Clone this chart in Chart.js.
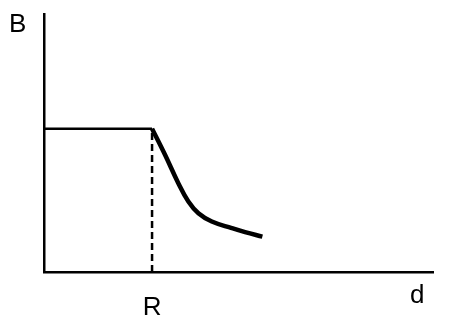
<!DOCTYPE html>
<html>
<head>
<meta charset="utf-8">
<script src="https://cdn.jsdelivr.net/npm/chart.js@4/dist/chart.umd.min.js"></script>
<style>
    html, body { margin: 0; padding: 0; background: #fff; }
    #wrap { width: 452px; height: 326px; }
</style>
</head>
<body>
<div id="wrap"><canvas id="fieldChart" width="452" height="326"></canvas></div>
<script>
// field strength B against distance d, in units of R and of the inside value
const plateauX = [0, 1];
const plateauY = [1, 1];
const dashX = [1, 1];
const dashY = [0, 1];
const decayX = [1, 1.12, 1.243, 1.336, 1.429, 1.553, 1.738, 1.861, 2.021];
const decayY = [1, 0.818, 0.62, 0.492, 0.41, 0.352, 0.306, 0.278, 0.247];
const tickValues = [1];
const tickLabels = ['R'];
const yAxisLabel = 'B';
const xAxisLabel = 'd';

const toPoints = (xs, ys) => xs.map((x, i) => ({ x: x, y: ys[i] }));
const labelFont = '26px "Liberation Sans", Arial, sans-serif';

const axisLabels = {
    id: 'axisLabels',
    afterDraw(chart) {
        const ctx = chart.ctx;
        const xs = chart.scales.x;
        const ys = chart.scales.y;
        ctx.save();
        ctx.fillStyle = '#000';
        ctx.font = labelFont;
        ctx.textBaseline = 'alphabetic';
        ctx.textAlign = 'left';
        ctx.fillText(yAxisLabel, xs.left - 35, ys.top + 18);
        ctx.fillText(xAxisLabel, xs.right - 23, ys.bottom + 31);
        ctx.restore();
    }
};

const ctx = document.getElementById('fieldChart').getContext('2d');
new Chart(ctx, {
    type: 'line',
    data: {
        datasets: [{
            data: toPoints(plateauX, plateauY),
            borderColor: '#000',
            borderWidth: 2.5,
            pointRadius: 0
        }, {
            data: toPoints(dashX, dashY),
            borderColor: '#000',
            borderWidth: 2.5,
            borderDash: [7, 4],
            pointRadius: 0
        }, {
            data: toPoints(decayX, decayY),
            borderColor: '#000',
            borderWidth: 4.5,
            tension: 0.4,
            pointRadius: 0
        }]
    },
    options: {
        responsive: false,
        animation: false,
        clip: false,
        layout: { padding: { left: 44, top: 14, right: 19, bottom: 0 } },
        plugins: {
            legend: { display: false },
            tooltip: { enabled: false }
        },
        scales: {
            x: {
                type: 'linear',
                min: 0,
                max: 3.6,
                afterFit: s => { s.height = 54; },
                afterBuildTicks: s => { s.ticks = tickValues.map(v => ({ value: v })); },
                grid: { display: false, drawTicks: false },
                border: { display: true, color: '#000', width: 2.5 },
                ticks: {
                    autoSkip: false,
                    maxRotation: 0,
                    padding: 20,
                    color: '#000',
                    font: { family: '"Liberation Sans", Arial, sans-serif', size: 26 },
                    callback: v => tickLabels[tickValues.indexOf(v)] || ''
                }
            },
            y: {
                min: 0,
                max: 1.8,
                afterFit: s => { s.width = 0; },
                grid: { display: false, drawTicks: false },
                border: { display: true, color: '#000', width: 2.5 },
                ticks: { display: false }
            }
        }
    },
    plugins: [axisLabels]
});
</script>
</body>
</html>
